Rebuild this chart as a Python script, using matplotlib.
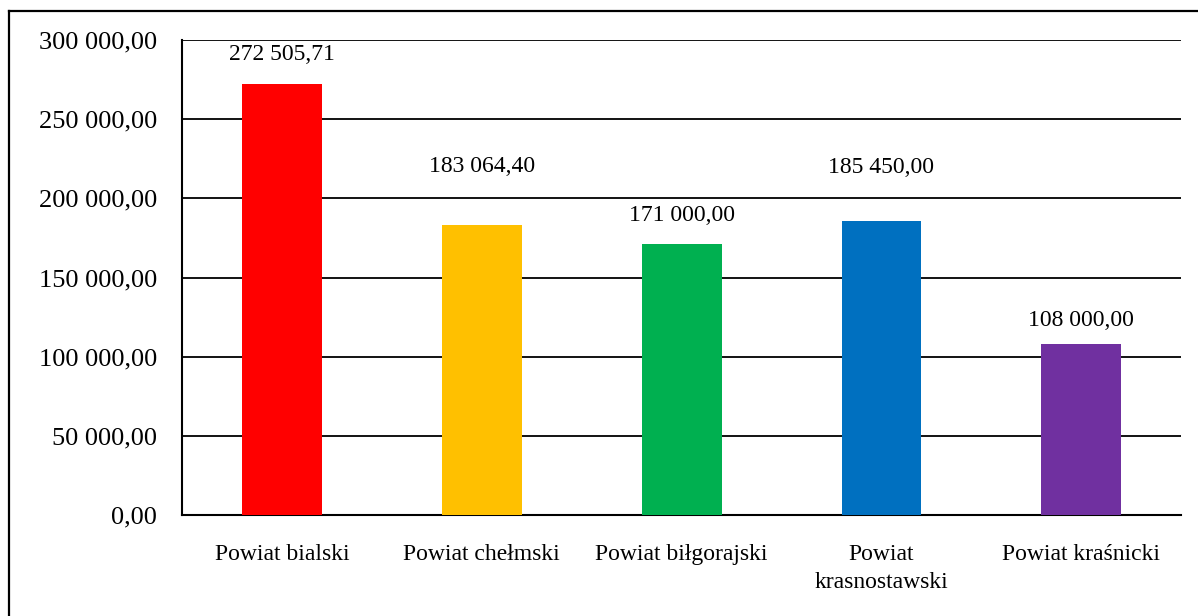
import matplotlib.pyplot as plt
from matplotlib.lines import Line2D

plt.rcParams['font.family'] = ['Liberation Serif', 'DejaVu Serif']

# data
categories = ['Powiat bialski', 'Powiat chełmski', 'Powiat biłgorajski',
              'Powiat\nkrasnostawski', 'Powiat kraśnicki']
values = [272505.71, 183064.40, 171000.00, 185450.00, 108000.00]
colors = ['#FF0000', '#FFC000', '#00B050', '#0070C0', '#7030A0']
yticks = [0, 50000, 100000, 150000, 200000, 250000, 300000]

# label offsets above bar top (points), as in the original layout
label_offsets = [21, 42, 21, 39, 17]


def pl_fmt(v):
    s = f'{v:,.2f}'
    return s.replace(',', ' ').replace('.', ',')


fig = plt.figure(figsize=(11.98, 6.16), dpi=100)
ax = fig.add_axes([0.152, 0.164, 0.834, 0.771])

x = range(len(categories))
ax.bar(x, values, width=0.4, color=colors, zorder=3)

for i, v in enumerate(values):
    ax.annotate(pl_fmt(v), (i, v), textcoords='offset points',
                xytext=(0, label_offsets[i]), ha='center', va='center',
                fontsize=17)

ax.set_xlim(-0.5, len(categories) - 0.5)
ax.set_ylim(0, 300000)
ax.set_yticks(yticks)
ax.set_yticklabels([pl_fmt(t) for t in yticks], fontsize=19)
ax.set_xticks(list(x))
ax.set_xticklabels(categories, fontsize=17, linespacing=1.4)
ax.tick_params(axis='both', length=0)
ax.tick_params(axis='y', pad=18)
ax.tick_params(axis='x', pad=21)

ax.yaxis.grid(True, color='black', linewidth=1.3, zorder=0)
ax.set_axisbelow(True)
for s in ['top', 'right']:
    ax.spines[s].set_visible(False)
ax.spines['left'].set_linewidth(1.5)
ax.spines['bottom'].set_linewidth(1.5)

# outer frame (only top and left visible, chart was cropped)
W, H = 1198, 616
fig.add_artist(Line2D([8.5 / W, 1.0], [1 - 10.5 / H, 1 - 10.5 / H],
                      color='black', linewidth=1.6, transform=fig.transFigure))
fig.add_artist(Line2D([8.5 / W, 8.5 / W], [0, 1 - 10.5 / H],
                      color='black', linewidth=1.6, transform=fig.transFigure))

fig.savefig('out.png', dpi=100)
